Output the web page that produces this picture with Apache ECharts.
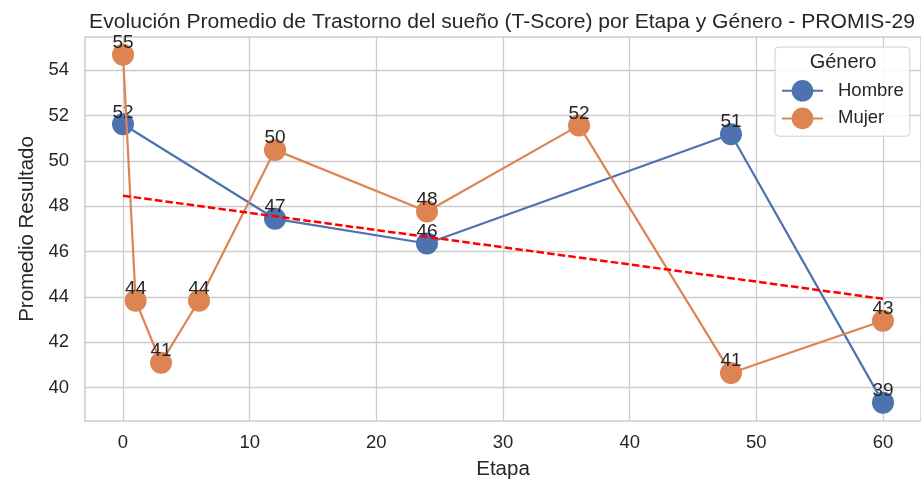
<!DOCTYPE html>
<html>
<head>
<meta charset="utf-8">
<script src="https://cdn.jsdelivr.net/npm/echarts@6/dist/echarts.min.js"></script>
<style>html,body{margin:0;padding:0;background:#fff}#c{width:921px;height:485px}</style>
</head>
<body>
<div id="c"></div>
<script>
var hombreX = [0, 12, 24, 48, 60];
var hombreY = [51.62, 47.45, 46.36, 51.18, 39.34];
var mujerX = [0, 1, 3, 6, 12, 24, 36, 48, 60];
var mujerY = [54.69, 43.84, 41.1, 43.84, 50.49, 47.77, 51.57, 40.65, 42.95];
var trendX = [0, 60];
var trendY = [48.47, 43.92];
var xTicks = [0, 10, 20, 30, 40, 50, 60];
var yTicks = [40, 42, 44, 46, 48, 50, 52, 54];

function pairs(xs, ys) { return xs.map(function (x, i) { return [x, ys[i]]; }); }

var font = 'Liberation Sans, Arial, sans-serif';
var txt = '#262626';
var labelCfg = {
  show: true, position: 'inside', offset: [0, -12],
  fontSize: 19, color: txt, fontFamily: font,
  formatter: function (p) { return Math.round(p.value[1]); }
};

var chart = echarts.init(document.getElementById('c'));
chart.setOption({
  animation: false,
  backgroundColor: '#fff',
  title: {
    text: 'Evolución Promedio de Trastorno del sueño (T-Score) por Etapa y Género - PROMIS-29',
    left: 497, top: 7, textAlign: 'center',
    textStyle: { fontSize: 21.1, fontWeight: 'normal', color: txt, fontFamily: font }
  },
  grid: { left: 85, right: 0, top: 37, bottom: 61.5, show: true, borderColor: '#cccccc', borderWidth: 1.5 },
  xAxis: {
    type: 'value', min: -3, max: 63,
    name: 'Etapa', nameLocation: 'middle', nameGap: 38,
    nameTextStyle: { fontSize: 20.5, color: txt, fontFamily: font },
    axisLine: { show: false },
    axisTick: { show: false, customValues: xTicks },
    axisLabel: { fontSize: 18.5, color: txt, fontFamily: font, margin: 12, customValues: xTicks },
    splitLine: { show: true, lineStyle: { color: '#cccccc', width: 1.3 } }
  },
  yAxis: {
    type: 'value', min: 38.53, max: 55.47,
    name: 'Promedio Resultado', nameLocation: 'middle', nameGap: 45,
    nameTextStyle: { fontSize: 20.5, color: txt, fontFamily: font },
    axisLine: { show: false },
    axisTick: { show: false, customValues: yTicks },
    axisLabel: { fontSize: 18.5, color: txt, fontFamily: font, margin: 16, customValues: yTicks },
    splitLine: { show: true, lineStyle: { color: '#cccccc', width: 1.3 } }
  },
  legend: {
    left: 775, top: 47, orient: 'vertical', itemGap: 6,
    itemWidth: 41, itemHeight: 27,
    backgroundColor: 'rgba(255,255,255,0.85)', borderColor: '#d0d0d0', borderWidth: 1, borderRadius: 4,
    padding: [33, 6, 7, 6],
    textStyle: { fontSize: 18.5, color: txt, fontFamily: font, padding: [0, 0, 0, 10] },
    data: ['Hombre', 'Mujer']
  },
  graphic: [{
    type: 'text', x: 843, y: 62,
    style: { text: 'Género', fontSize: 20, fill: txt, fontFamily: font, textAlign: 'center', textVerticalAlign: 'middle' },
    z: 100
  }],
  series: [
    {
      name: 'Hombre', type: 'line', data: pairs(hombreX, hombreY),
      symbol: 'circle', symbolSize: 22, color: '#4C72B0',
      lineStyle: { width: 2.2, color: '#4C72B0' },
      itemStyle: { color: '#4C72B0' }, label: labelCfg, z: 3
    },
    {
      name: 'Mujer', type: 'line', data: pairs(mujerX, mujerY),
      symbol: 'circle', symbolSize: 22, color: '#DD8452',
      lineStyle: { width: 2.2, color: '#DD8452' },
      itemStyle: { color: '#DD8452' }, label: labelCfg, z: 4
    },
    {
      name: 'Tendencia', type: 'line', data: pairs(trendX, trendY),
      symbol: 'none', lineStyle: { color: '#ff0000', width: 2.5, type: [7.5, 3.2] }, z: 5,
      silent: true
    }
  ]
});
</script>
</body>
</html>
